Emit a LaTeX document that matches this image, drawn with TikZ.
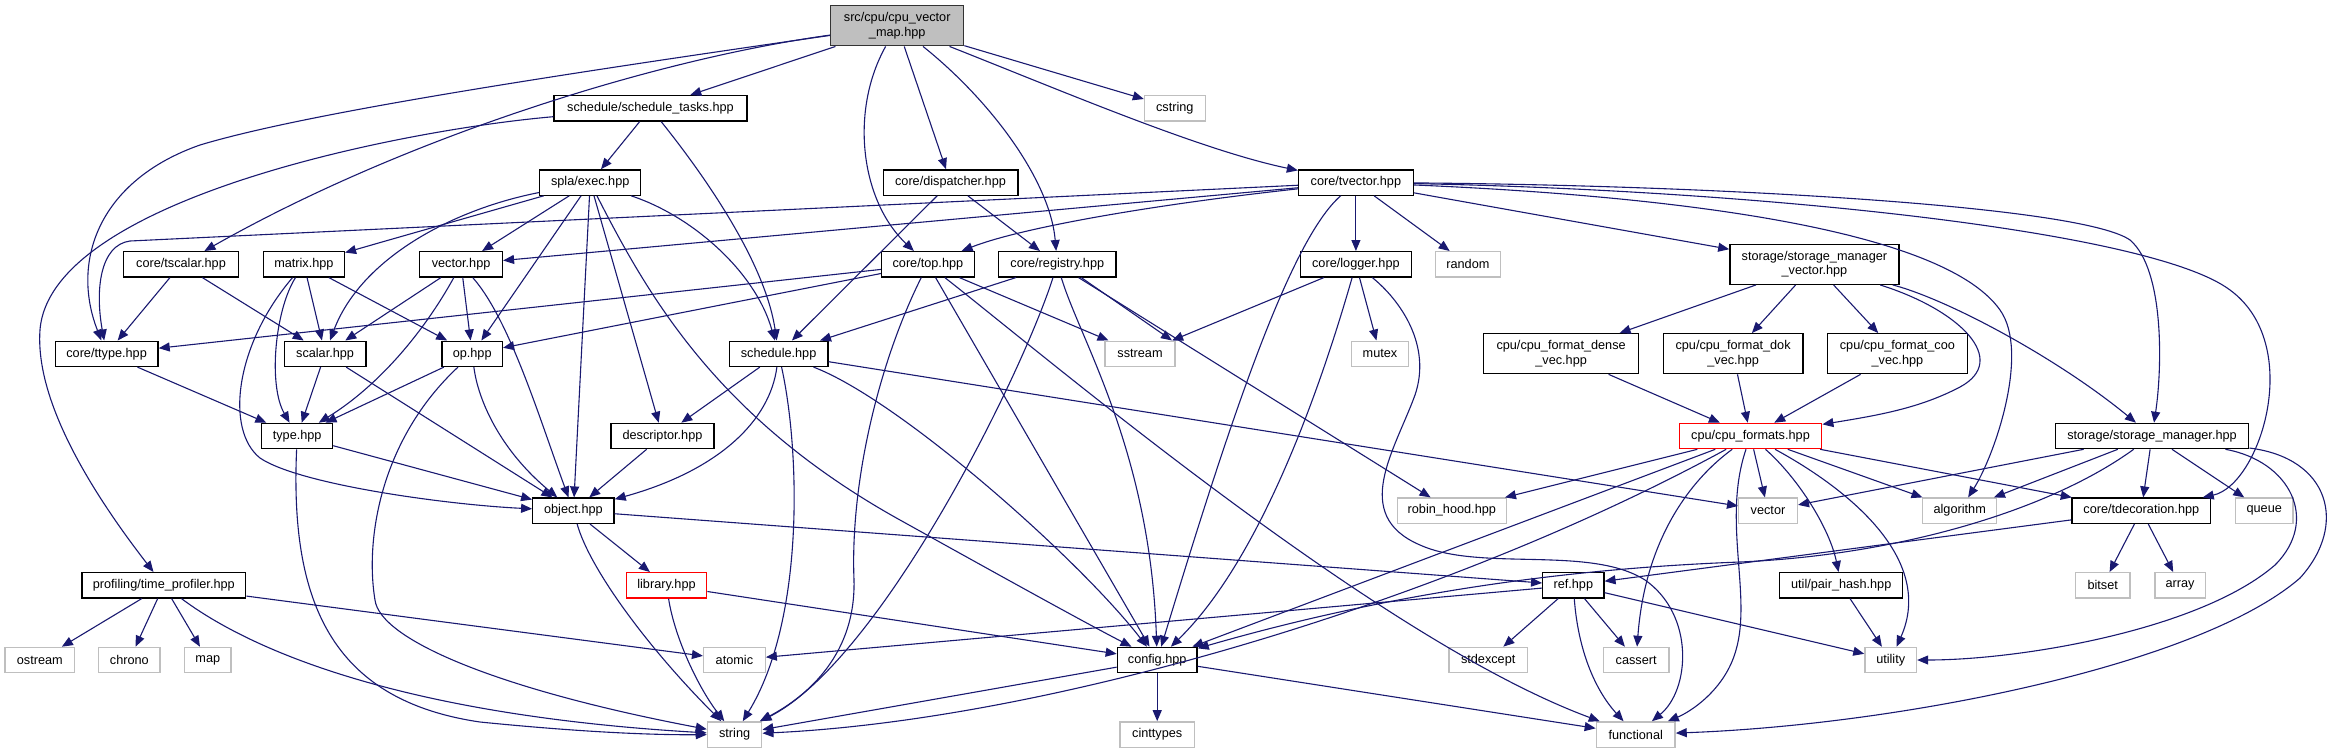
\documentclass[tikz,border=0pt]{standalone}
\usepackage{fontspec}
\setmainfont{Liberation Sans}
\usetikzlibrary{arrows.meta}
\definecolor{edgec}{HTML}{191970}
\definecolor{sysgray}{HTML}{BFBFBF}
\definecolor{rootfill}{HTML}{BFBFBF}
\newcommand{\dgfont}{\fontsize{12.7}{14.3}\selectfont}
\begin{document}
\begin{tikzpicture}[x=1pt,y=-1pt,
 box/.style={draw=black, fill=white, line width=1.3pt, inner sep=0pt, minimum height=25.3pt, font=\dgfont, text=black},
 sys/.style={box, draw=sysgray},
 redbox/.style={box, draw=red},
 rootbox/.style={box, fill=rootfill, draw=black!80},
 tall/.style={minimum height=40pt, align=center},
 dep/.style={draw=edgec, line width=1.1pt, -{Triangle[length=11pt,width=9pt]}}]
\useasboundingbox (0,0) rectangle (2339,753);
% nodes
\node[rootbox, tall, minimum width=133pt] (root) at (897.2,25.8) {src/cpu/cpu\_vector\\\_map.hpp};
\node[box, minimum width=193pt] (st) at (650.5,108.3) {schedule/schedule\_tasks.hpp};
\node[sys, minimum width=60.7pt] (cstring) at (1174.8,108.2) {cstring};
\node[box, minimum width=101pt] (exec) at (590.2,182.5) {spla/exec.hpp};
\node[box, minimum width=134.7pt] (disp) at (950.5,182.5) {core/dispatcher.hpp};
\node[box, minimum width=114.8pt] (tvec) at (1355.9,182.5) {core/tvector.hpp};
\node[box, minimum width=114.8pt] (tscalar) at (181,264.3) {core/tscalar.hpp};
\node[box, minimum width=81.1pt] (matrix) at (303.9,264.3) {matrix.hpp};
\node[box, minimum width=82.7pt] (vec) at (461.1,264.3) {vector.hpp};
\node[box, minimum width=92.6pt] (top) at (927.9,264.3) {core/top.hpp};
\node[box, minimum width=117.1pt] (reg) at (1057.3,264.3) {core/registry.hpp};
\node[box, minimum width=111pt] (logger) at (1355.9,264.3) {core/logger.hpp};
\node[sys, minimum width=65.4pt] (random) at (1467.9,264.3) {random};
\node[box, tall, minimum width=169.1pt] (smv) at (1814.4,264.3) {storage/storage\_manager\\\_vector.hpp};
\node[box, minimum width=102.9pt] (ttype) at (106.6,353.8) {core/ttype.hpp};
\node[box, minimum width=81.6pt] (scalar) at (325.1,353.8) {scalar.hpp};
\node[box, minimum width=60.5pt] (op) at (472.2,353.8) {op.hpp};
\node[box, minimum width=98.8pt] (sched) at (778.6,353.8) {schedule.hpp};
\node[sys, minimum width=70pt] (sstream) at (1140,353.8) {sstream};
\node[sys, minimum width=57.4pt] (mutex) at (1380,353.8) {mutex};
\node[box, tall, minimum width=154.6pt] (dense) at (1561.1,353.7) {cpu/cpu\_format\_dense\\\_vec.hpp};
\node[box, tall, minimum width=139.8pt] (dok) at (1733.1,353.7) {cpu/cpu\_format\_dok\\\_vec.hpp};
\node[box, tall, minimum width=139.8pt] (coo) at (1897.4,353.7) {cpu/cpu\_format\_coo\\\_vec.hpp};
\node[box, minimum width=70.8pt] (type) at (297.2,436) {type.hpp};
\node[box, minimum width=102.9pt] (desc) at (662.5,436) {descriptor.hpp};
\node[redbox, minimum width=142.5pt] (formats) at (1750.5,436) {cpu/cpu\_formats.hpp};
\node[box, minimum width=193.6pt] (sm) at (2152,436) {storage/storage\_manager.hpp};
\node[box, minimum width=81.3pt] (object) at (573.4,510.7) {object.hpp};
\node[sys, minimum width=109pt] (robin) at (1451.8,510.7) {robin\_hood.hpp};
\node[sys, minimum width=58.7pt] (stdvec) at (1768,510.7) {vector};
\node[sys, minimum width=74.1pt] (algo) at (1959.7,510.7) {algorithm};
\node[box, minimum width=138.6pt] (tdec) at (2141.3,510.7) {core/tdecoration.hpp};
\node[sys, minimum width=57.3pt] (queue) at (2264.2,510.7) {queue};
\node[box, minimum width=163.8pt] (prof) at (163.8,585.3) {profiling/time\_profiler.hpp};
\node[redbox, minimum width=80.4pt] (lib) at (666.5,585.3) {library.hpp};
\node[box, minimum width=61.2pt] (ref) at (1573.3,585.3) {ref.hpp};
\node[box, minimum width=123pt] (pair) at (1841.2,585.3) {util/pair\_hash.hpp};
\node[sys, minimum width=54.6pt] (bitset) at (2102.7,585.3) {bitset};
\node[sys, minimum width=50.4pt] (array) at (2180.1,585.3) {array};
\node[sys, minimum width=69.6pt] (ostream) at (39.8,660) {ostream};
\node[sys, minimum width=61.3pt] (chrono) at (129.4,660) {chrono};
\node[sys, minimum width=46.6pt] (map) at (207.8,660) {map};
\node[sys, minimum width=61.6pt] (atomic) at (734.4,660) {atomic};
\node[box, minimum width=79.8pt] (config) at (1157.2,660) {config.hpp};
\node[sys, minimum width=78.5pt] (stdexcept) at (1488.2,660) {stdexcept};
\node[sys, minimum width=65.8pt] (cassert) at (1636.1,660) {cassert};
\node[sys, minimum width=51.6pt] (utility) at (1890.7,660) {utility};
\node[sys, minimum width=54.4pt] (string) at (734.6,734.5) {string};
\node[sys, minimum width=74.4pt] (cinttypes) at (1157.2,734.5) {cinttypes};
\node[sys, minimum width=78.8pt] (functional) at (1635.7,734.5) {functional};
% root
\draw[dep] (root) .. controls (520,80) and (300,115) .. (200,145) .. controls (100,180) and (70,260) .. (ttype);
\draw[dep] (root) .. controls (650,60) and (400,140) .. (tscalar);
\draw[dep] (root) -- (st);
\draw[dep] (root) .. controls (850,110) and (860,200) .. (top);
\draw[dep] (root) -- (disp);
\draw[dep] (root) .. controls (990,100) and (1050,180) .. (reg);
\draw[dep] (root) -- (cstring);
\draw[dep] (root) .. controls (1060,90) and (1200,150) .. (tvec);
% schedule_tasks
\draw[dep] (st) -- (exec);
\draw[dep] (st) .. controls (700,170) and (765,260) .. (sched);
\draw[dep] (st) .. controls (400,130) and (50,200) .. (40,330) .. controls (35,400) and (90,490) .. (prof);
% exec
\draw[dep] (exec) -- (matrix);
\draw[dep] (exec) -- (vec);
\draw[dep] (exec) .. controls (450,210) and (360,260) .. (scalar);
\draw[dep] (exec) -- (op);
\draw[dep] (exec) -- (object);
\draw[dep] (exec) -- (desc);
\draw[dep] (exec) .. controls (650,300) and (720,420) .. (900,520) .. controls (990,570) and (1080,620) .. (config);
\draw[dep] (exec) .. controls (690,215) and (755,270) .. (sched);
% matrix
\draw[dep] (matrix) -- (scalar);
\draw[dep] (matrix) -- (op);
\draw[dep] (matrix) .. controls (275,310) and (268,385) .. (type);
\draw[dep] (matrix) .. controls (235,345) and (225,430) .. (260,458) .. controls (300,485) and (450,505) .. (object);
% tscalar
\draw[dep] (tscalar) -- (ttype);
\draw[dep] (tscalar) -- (scalar);
% vector
\draw[dep] (vec) -- (scalar);
\draw[dep] (vec) -- (op);
\draw[dep] (vec) .. controls (425,330) and (380,385) .. (type);
\draw[dep] (vec) .. controls (510,320) and (540,420) .. (object);
% op
\draw[dep] (op) -- (type);
\draw[dep] (op) .. controls (478,400) and (500,450) .. (object);
\draw[dep] (op) .. controls (380,440) and (365,540) .. (375,600) .. controls (380,640) and (500,690) .. (string);
% type
\draw[dep] (type) -- (object);
\draw[dep] (type) .. controls (290,600) and (330,700) .. (480,722) .. controls (580,732) and (650,735) .. (string);
\draw[dep] (ttype) -- (type);
\draw[dep] (scalar) -- (type);
\draw[dep] (scalar) -- (object);
% object
\draw[dep] (object) -- (lib);
\draw[dep] (object) .. controls (590,570) and (650,650) .. (string);
\draw[dep] (object) -- (ref);
\draw[dep] (lib) .. controls (675,640) and (700,690) .. (string);
\draw[dep] (lib) -- (config);
\draw[dep] (desc) -- (object);
% schedule
\draw[dep] (sched) -- (desc);
\draw[dep] (sched) .. controls (770,420) and (720,470) .. (object);
\draw[dep] (sched) .. controls (800,450) and (805,620) .. (string);
\draw[dep] (sched) .. controls (900,400) and (1080,560) .. (config);
\draw[dep] (sched) -- (stdvec);
% top
\draw[dep] (top) -- (ttype);
\draw[dep] (top) -- (op);
\draw[dep] (top) .. controls (880,360) and (850,480) .. (854,580) .. controls (856,660) and (800,700) .. (string);
\draw[dep] (top) -- (config);
\draw[dep] (top) .. controls (1050,360) and (1380,640) .. (functional);
\draw[dep] (top) -- (sstream);
% registry
\draw[dep] (reg) -- (sched);
\draw[dep] (reg) .. controls (1020,380) and (880,660) .. (string);
\draw[dep] (reg) .. controls (1080,340) and (1150,450) .. (config);
\draw[dep] ([xshift=24pt]reg.south) -- ([xshift=32pt]sstream.north);
\draw[dep] (reg) -- (robin);
% dispatcher
\draw[dep] (disp) -- (sched);
\draw[dep] (disp) -- (reg);
% tvector
\draw[dep] (tvec) -- (130,241) .. controls (100,245) and (95,290) .. (ttype);
\draw[dep] (tvec) -- (vec);
\draw[dep] (tvec) .. controls (1150,205) and (1020,228) .. (top);
\draw[dep] (tvec) .. controls (1290,240) and (1230,420) .. (config);
\draw[dep] (tvec) -- (logger);
\draw[dep] (tvec) -- (random);
\draw[dep] (tvec) -- (smv);
\draw[dep] (tvec) .. controls (1700,185) and (2080,205) .. (2130,240) .. controls (2165,270) and (2162,370) .. (sm);
\draw[dep] (tvec) .. controls (1750,190) and (2150,230) .. (2230,290) .. controls (2305,345) and (2260,485) .. (tdec);
\draw[dep] (tvec) .. controls (1650,195) and (1940,225) .. (2000,310) .. controls (2030,352) and (1995,455) .. (algo);
% logger
\draw[dep] (logger) -- (sstream);
\draw[dep] (logger) .. controls (1320,390) and (1260,560) .. (config);
\draw[dep] (logger) -- (mutex);
\draw[dep] (logger) .. controls (1400,300) and (1432,345) .. (1415,395) .. controls (1395,450) and (1350,515) .. (1420,545) .. controls (1480,572) and (1590,545) .. (1645,580) .. controls (1695,615) and (1690,690) .. (functional);
% storage manager vector
\draw[dep] (smv) -- (dense);
\draw[dep] (smv) -- (dok);
\draw[dep] (smv) -- (coo);
\draw[dep] (smv) .. controls (1960,310) and (2010,360) .. (1960,387) .. controls (1920,408) and (1880,415) .. (formats);
\draw[dep] (smv) .. controls (1950,300) and (2060,360) .. (sm);
\draw[dep] (dense) -- (formats);
\draw[dep] (dok) -- (formats);
\draw[dep] (coo) -- (formats);
% formats
\draw[dep] (formats) -- (robin);
\draw[dep] (formats) -- (config);
\draw[dep] (formats) .. controls (1450,600) and (1050,720) .. (string);
\draw[dep] (formats) .. controls (1690,480) and (1645,540) .. (cassert);
\draw[dep] (formats) .. controls (1722,520) and (1752,595) .. (1736,650) .. controls (1725,690) and (1690,712) .. (functional);
\draw[dep] (formats) -- (stdvec);
\draw[dep] (formats) .. controls (1800,480) and (1830,530) .. (pair);
\draw[dep] (formats) .. controls (1850,490) and (1935,560) .. (utility);
\draw[dep] (formats) -- (algo);
\draw[dep] (formats) -- (tdec);
% storage manager
\draw[dep] (sm) -- (stdvec);
\draw[dep] (sm) -- (algo);
\draw[dep] (sm) .. controls (2050,510) and (1900,555) .. (1740,562) .. controls (1580,568) and (1400,590) .. (config);
\draw[dep] (sm) -- (tdec);
\draw[dep] (sm) -- (queue);
\draw[dep] (sm) .. controls (2290,461) and (2320,520) .. (2275,565) .. controls (2200,630) and (2020,660) .. (utility);
\draw[dep] (sm) .. controls (2330,458) and (2348,525) .. (2300,578) .. controls (2200,665) and (1900,725) .. (functional);
% tdecoration
\draw[dep] (tdec) -- (bitset);
\draw[dep] (tdec) -- (array);
\draw[dep] (tdec) -- (ref);
% ref
\draw[dep] (ref) -- (atomic);
\draw[dep] (ref) -- (stdexcept);
\draw[dep] (ref) -- (cassert);
\draw[dep] (ref) .. controls (1578,650) and (1595,690) .. (functional);
\draw[dep] (ref) -- (utility);
\draw[dep] (pair) -- (utility);
% config
\draw[dep] (config) -- (string);
\draw[dep] (config) -- (cinttypes);
\draw[dep] (config) -- (functional);
% profiler
\draw[dep] (prof) -- (ostream);
\draw[dep] (prof) -- (chrono);
\draw[dep] (prof) -- (map);
\draw[dep] (prof) .. controls (250,650) and (400,715) .. (string);
\draw[dep] (prof) -- (atomic);
\end{tikzpicture}
\end{document}
